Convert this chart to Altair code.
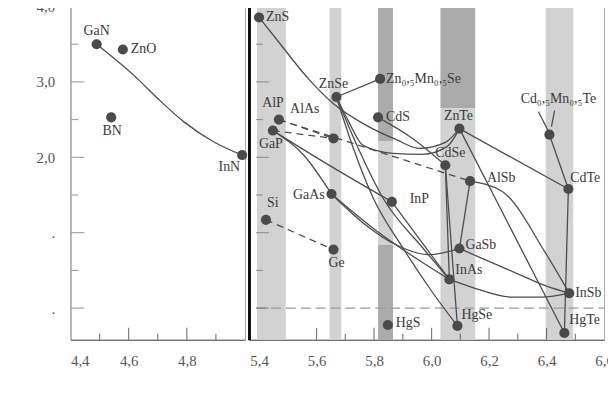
import altair as alt
import pandas as pd

# ---------------- data ----------------
left_names = ["GaN", "ZnO", "BN", "InN"]
left_a = [4.49, 4.58, 4.54, 4.99]
left_eg = [3.50, 3.43, 2.53, 2.03]

right_names = ["ZnS", "Si", "AlP", "GaP", "AlAs", "GaAs", "Ge", "ZnSe",
               "Zn₀,₅Mn₀,₅Se", "CdS", "InP", "HgS", "CdSe", "InAs", "HgSe",
               "ZnTe", "GaSb", "AlSb", "Cd₀,₅Mn₀,₅Te", "CdTe", "InSb", "HgTe"]
right_a = [5.400, 5.424, 5.469, 5.448, 5.659, 5.652, 5.659, 5.669,
           5.821, 5.814, 5.862, 5.848, 6.048, 6.062, 6.090,
           6.097, 6.097, 6.134, 6.410, 6.476, 6.479, 6.462]
right_eg = [3.855, 1.17, 2.50, 2.355, 2.25, 1.513, 0.776, 2.80,
            3.04, 2.53, 1.41, -0.224, 1.895, 0.38, -0.237,
            2.38, 0.79, 1.684, 2.30, 1.58, 0.197, -0.33]

left_curves = {
    "GaN-InN": ([4.49, 4.62, 4.70, 4.79, 4.89, 4.99], [3.50, 3.08, 2.78, 2.47, 2.21, 2.03]),
}

right_solid = {
    "ZnS-ZnTe": ([5.400, 5.469, 5.572, 5.659, 5.762, 5.876, 5.959, 6.048, 6.097],
                 [3.855, 3.526, 3.04, 2.71, 2.447, 2.237, 2.118, 2.197, 2.38]),
    "ZnSe-ZnTe": ([5.669, 5.710, 5.762, 5.866, 5.969, 6.055, 6.097],
                  [2.80, 2.487, 2.158, 2.053, 2.04, 2.145, 2.38]),
    "ZnSe-ZnMnSe": ([5.669, 5.821], [2.80, 3.04]),
    "ZnSe-HgSe": ([5.669, 5.728, 5.797, 5.900, 6.003, 6.090], [2.80, 2.12, 1.46, 0.80, 0.21, -0.237]),
    "ZnSe-InAs": ([5.669, 5.745, 5.831, 5.969, 6.062], [2.80, 2.12, 1.46, 0.80, 0.38]),
    "CdS-CdSe": ([5.814, 5.934, 6.048], [2.53, 2.25, 1.895]),
    "CdSe-HgSe": ([6.048, 6.090], [1.895, -0.237]),
    "CdSe-InAs": ([6.048, 6.062], [1.895, 0.38]),
    "ZnTe-CdTe": ([6.097, 6.476], [2.38, 1.58]),
    "ZnTe-HgTe": ([6.097, 6.462], [2.38, -0.33]),
    "CdMnTe-CdTe": ([6.410, 6.476], [2.30, 1.58]),
    "CdTe-HgTe": ([6.476, 6.462], [1.58, -0.33]),
    "AlSb-GaSb": ([6.134, 6.097], [1.684, 0.79]),
    "AlSb-InSb": ([6.134, 6.245, 6.395, 6.479], [1.684, 1.55, 0.74, 0.197]),
    "GaSb-InSb": ([6.097, 6.314, 6.400, 6.479], [0.79, 0.43, 0.29, 0.197]),
    "InAs-InSb": ([6.062, 6.141, 6.279, 6.383, 6.479], [0.38, 0.276, 0.145, 0.145, 0.197]),
    "GaAs-GaSb": ([5.652, 5.762, 5.876, 5.990, 6.097], [1.513, 1.13, 0.84, 0.71, 0.79]),
    "GaAs-InAs": ([5.652, 5.800, 5.950, 6.062], [1.513, 1.05, 0.65, 0.38]),
    "InP-InAs": ([5.862, 6.062], [1.41, 0.38]),
    "GaP-GaAs": ([5.448, 5.555, 5.652], [2.355, 2.03, 1.513]),
    "GaP-InP": ([5.448, 5.620, 5.862], [2.355, 1.95, 1.41]),
    "ptr1": ([6.372, 6.407], [2.605, 2.342]),
    "ptr2": ([6.417, 6.428], [2.408, 2.618]),
}

right_dashed = {
    "Si-Ge": ([5.424, 5.659], [1.17, 0.776]),
    "AlP-AlAs": ([5.469, 5.659], [2.50, 2.25]),
    "AlP-AlSb": ([5.469, 6.134], [2.50, 1.684]),
    "GaP-AlAs": ([5.448, 5.659], [2.355, 2.25]),
}

# shaded lattice-constant bands
band_lo = [5.393, 5.645, 5.814, 5.814, 5.814, 6.031, 6.031, 6.397]
band_hi = [5.493, 5.686, 5.866, 5.866, 5.866, 6.152, 6.152, 6.493]
band_bottom = [-0.42, -0.42, 2.21, 0.84, -0.42, 2.65, -0.42, -0.42]
band_top = [4.0, 4.0, 4.0, 2.21, 0.84, 4.0, 2.65, 4.0]
band_shade = ["light", "light", "dark", "light", "dark", "dark", "light", "light"]

zero_level = [0.0]

left_x_labels = [4.4, 4.6, 4.8]
right_x_labels = [5.4, 5.6, 5.8, 6.0, 6.2, 6.4, 6.6]
y_labels = [0, 1, 2, 3, 4]
left_x_major = [4.6, 4.8]
left_x_minor = [4.5, 4.7, 4.9]
right_x_major = [5.6, 5.8, 6.0, 6.2, 6.4]
right_x_minor = [5.7, 5.9, 6.1, 6.3, 6.5]
y_major = [0.0, 1.0, 2.0, 3.0]
y_minor = [0.5, 1.5, 2.5, 3.5]

# ---------------- styling ----------------
FONT = "Liberation Serif, Times New Roman, DejaVu Serif, serif"
LINE = "#4d4d4d"
PT = "#4a4a4a"
H = 336
WL, WR = 176, 358

label_style = {
    "GaN": (0, -13, "center"), "ZnO": (8, 0, "left"), "BN": (1, 14, "center"),
    "InN": (-2, 12, "right"), "ZnS": (7, 0, "left"), "Si": (7, -17, "center"),
    "AlP": (-6, -17, "center"), "GaP": (-2, 14, "center"), "AlAs": (-29, -30, "center"),
    "GaAs": (-7, 1, "right"), "Ge": (3, 14, "center"), "ZnSe": (-3, -13, "center"),
    "Zn₀,₅Mn₀,₅Se": (6, 0, "left"), "CdS": (8, 0, "left"), "InP": (18, -3, "left"),
    "HgS": (8, -2, "left"), "CdSe": (5, -12, "center"), "InAs": (6, -9, "left"),
    "HgSe": (4, -11, "left"), "ZnTe": (-1, -13, "center"), "GaSb": (6, -4, "left"),
    "AlSb": (17, -3, "left"), "Cd₀,₅Mn₀,₅Te": (9, -36, "center"), "CdTe": (2, -11, "left"),
    "InSb": (6, 0, "left"), "HgTe": (5, -13, "left"),
}

comma = "replace(format(datum.value, '.1f'), '.', ',')"

y_scale = alt.Scale(domain=[-0.42, 4.0], nice=False, zero=False)
xl_scale = alt.Scale(domain=[4.4, 5.0], nice=False, zero=False)
xr_scale = alt.Scale(domain=[5.365, 6.6], nice=False, zero=False)

axis_common = dict(title=None, grid=False, tickSize=0, labelFont=FONT, labelFontSize=15,
                   labelColor="#555")
XL = alt.X("a:Q", scale=xl_scale,
           axis=alt.Axis(values=left_x_labels, labelExpr=comma, domainColor="#555",
                         labelPadding=14, **axis_common))
XR = alt.X("a:Q", scale=xr_scale,
           axis=alt.Axis(values=right_x_labels, labelExpr=comma, domainColor="#555",
                         labelPadding=14, labelFlush=False, **axis_common))
YL = alt.Y("eg:Q", scale=y_scale,
           axis=alt.Axis(values=y_labels, domainColor="#999", labelPadding=16,
                         labelExpr="datum.value >= 2 ? " + comma + " : '.'", **axis_common))
YR = alt.Y("eg:Q", scale=y_scale,
           axis=alt.Axis(labels=False, ticks=False, domainColor="#111", domainWidth=3,
                         title=None, grid=False))


def curves_df(curves):
    rows = []
    for name, (xs, ys) in curves.items():
        for x, y in zip(xs, ys):
            rows.append({"curve": name, "a": x, "eg": y})
    return pd.DataFrame(rows)


def label_layers(names, a, eg, X, Y):
    df = pd.DataFrame({"name": names, "a": a, "eg": eg})
    layers = []
    for n in names:
        dx, dy, align = label_style[n]
        layers.append(
            alt.Chart(df).transform_filter(alt.datum.name == n)
            .mark_text(font=FONT, fontSize=14, color="#3a3a3a", dx=dx, dy=dy,
                       align=align, baseline="middle")
            .encode(x=X, y=Y, text="name:N")
        )
    return layers


def tick_layers(X, Y, x_major, x_minor, y_offset):
    out = []
    for vals, size in ((x_major, 12), (x_minor, 6)):
        out.append(alt.Chart(pd.DataFrame({"a": vals})).mark_tick(
            color="#444", thickness=1.2, size=size, orient="vertical")
            .encode(x=X, y=alt.value(H - size / 2)))
    for vals, size in ((y_major, 13), (y_minor, 7)):
        out.append(alt.Chart(pd.DataFrame({"eg": vals})).mark_tick(
            color="#666", thickness=1, size=size, orient="horizontal")
            .encode(y=Y, x=alt.value(y_offset + size / 2)))
    return out


# ---------------- left panel ----------------
left_pts = pd.DataFrame({"name": left_names, "a": left_a, "eg": left_eg})
left = alt.layer(
    *tick_layers(XL, YL, left_x_major, left_x_minor, 1),
    alt.Chart(curves_df(left_curves)).mark_line(interpolate="monotone", color=LINE,
                                                strokeWidth=1.3)
    .encode(x=XL, y=YL, detail="curve:N"),
    alt.Chart(left_pts).mark_circle(size=105, color=PT, opacity=1).encode(x=XL, y=YL),
    *label_layers(left_names, left_a, left_eg, XL, YL),
).properties(width=WL, height=H)

# ---------------- right panel ----------------
bands = pd.DataFrame({"a": band_lo, "a2": band_hi, "eg": band_bottom, "eg2": band_top,
                      "shade": band_shade})
right_pts = pd.DataFrame({"name": right_names, "a": right_a, "eg": right_eg})
zero_df = pd.DataFrame({"a": [5.39], "a2": [6.6], "eg": zero_level})

right = alt.layer(
    alt.Chart(bands).mark_rect().encode(
        x=XR, x2="a2:Q", y=YR, y2="eg2:Q",
        color=alt.Color("shade:N", scale=alt.Scale(domain=["light", "dark"],
                                                   range=["#d2d2d2", "#ababab"]),
                        legend=None)),
    alt.Chart(zero_df).mark_rule(color="#9a9a9a", strokeDash=[10, 5], strokeWidth=1.2)
    .encode(x=XR, x2="a2:Q", y=YR),
    *tick_layers(XR, YR, right_x_major, right_x_minor, 7),
    alt.Chart(curves_df(right_solid)).mark_line(interpolate="monotone", color=LINE,
                                                strokeWidth=1.3)
    .encode(x=XR, y=YR, detail="curve:N"),
    alt.Chart(curves_df(right_dashed)).mark_line(color=LINE, strokeWidth=1.3,
                                                 strokeDash=[7, 5])
    .encode(x=XR, y=YR, detail="curve:N"),
    alt.Chart(right_pts).mark_circle(size=105, color=PT, opacity=1).encode(x=XR, y=YR),
    *label_layers(right_names, right_a, right_eg, XR, YR),
).properties(width=WR, height=H)

chart = alt.hconcat(left, right, spacing=0).properties(
    padding={"left": 27, "top": -11, "right": -6, "bottom": 0}
).configure_view(stroke="#aaaaaa", strokeWidth=1).configure_concat(spacing=0)

chart.save("out.html", embed_options={"renderer": "svg", "actions": False})
